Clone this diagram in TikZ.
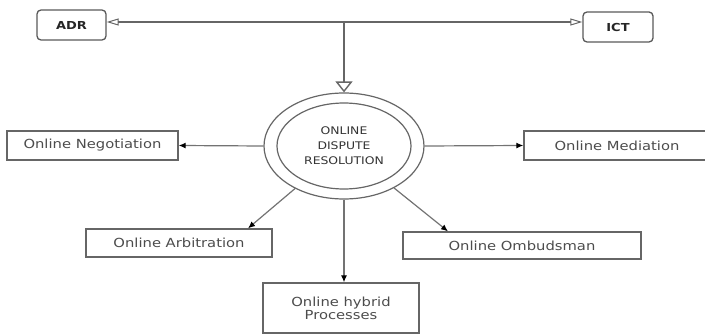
\documentclass[tikz,border=0pt]{standalone}
\usepackage{fontspec}
\setmainfont{DejaVu Sans}[FakeStretch=1.18]
\usetikzlibrary{positioning,shapes.geometric,arrows.meta}

\begin{document}
\begin{tikzpicture}[x=1pt,y=-1pt,
	srcbox/.style={draw=black!65,line width=1.3pt,rounded corners=4pt,minimum height=30pt,font=\fontsize{11}{13}\selectfont\bfseries,text=black!85},
	outbox/.style={draw=black!60,line width=1.3pt,inner sep=0pt,font=\fontsize{12.5}{13}\selectfont,text=black!70,align=center},
	ring/.style={draw=black!60,line width=1.2pt},
	feed/.style={draw=black!60,line width=2.4pt},
	branch/.style={draw=black!55,line width=1.2pt,-{Latex[black,length=7pt,width=6pt]}}]
	\useasboundingbox (0,0) rectangle (705,334);
	% sources
	\node[srcbox,minimum width=69pt] (adr) at (71.5,25) {ADR};
	\node[srcbox,minimum width=70pt] (ict) at (618,27) {ICT};
	\coordinate (jn) at (344,22);
	% centre
	\node[ring,ellipse,minimum width=160pt,minimum height=106pt,inner sep=0pt,
		font=\fontsize{10.5}{15}\selectfont,text=black!80,align=center] (odr) at (344,146)
		{ONLINE\\DISPUTE\\RESOLUTION};
	\draw[ring] (odr.center) ellipse [x radius=67, y radius=43];
	% outcomes
	\node[outbox,minimum width=171pt,minimum height=29pt] (neg) at (92.5,145.5) {Online Negotiation};
	\node[outbox,minimum width=186pt,minimum height=29pt] (med) at (617,145.5) {Online Mediation};
	\node[outbox,minimum width=186pt,minimum height=28pt] (arb) at (179,243) {Online Arbitration};
	\node[outbox,minimum width=238pt,minimum height=27pt] (omb) at (522,245.5) {Online Ombudsman};
	\node[outbox,minimum width=156pt,minimum height=50pt] (hyb) at (341,308) {Online hybrid\\Processes};
	% feeds
	\draw[feed,{Triangle[open,length=12pt,width=7pt,line width=1pt]}-{Triangle[open,length=12pt,width=7pt,line width=1pt]}]
		(jn -| adr.east) -- (jn -| ict.west);
	\draw[feed,-{Triangle[open,length=11pt,width=17pt,line width=1.4pt]}] (jn) -- (odr.north);
	% branches
	\draw[branch] (odr.west) -- (neg.east);
	\draw[branch] (odr.east) -- (med.west);
	\draw[branch] (odr.221) -- ([xshift=69pt]arb.north);
	\draw[branch] (odr.-40) -- ([xshift=-74pt]omb.north);
	\draw[branch] (odr.south) -- (odr.south |- hyb.north);
\end{tikzpicture}
\end{document}
